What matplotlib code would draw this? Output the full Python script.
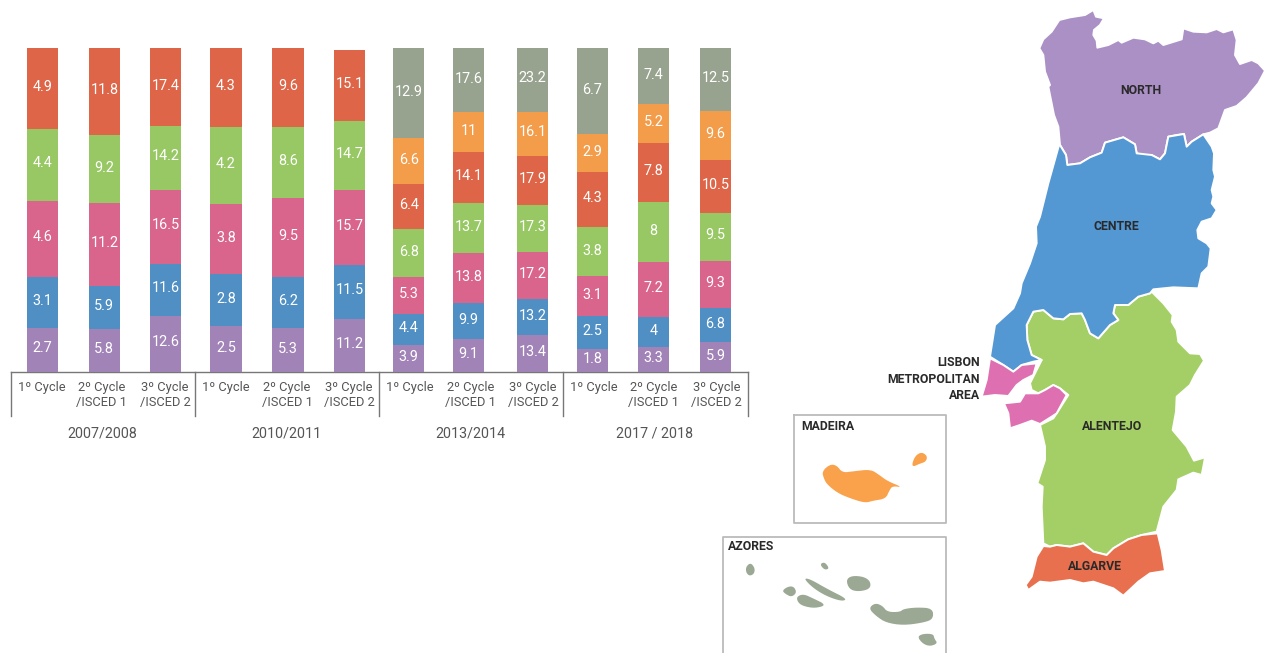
import numpy as np
import matplotlib
matplotlib.use("Agg")
import matplotlib.pyplot as plt
from matplotlib.patches import Polygon

# share of students per region, one value per school cycle and year
north = [2.7, 5.8, 12.6, 2.5, 5.3, 11.2, 3.9, 9.1, 13.4, 1.8, 3.3, 5.9]
centre = [3.1, 5.9, 11.6, 2.8, 6.2, 11.5, 4.4, 9.9, 13.2, 2.5, 4, 6.8]
lisbon = [4.6, 11.2, 16.5, 3.8, 9.5, 15.7, 5.3, 13.8, 17.2, 3.1, 7.2, 9.3]
alentejo = [4.4, 9.2, 14.2, 4.2, 8.6, 14.7, 6.8, 13.7, 17.3, 3.8, 8, 9.5]
algarve = [4.9, 11.8, 17.4, 4.3, 9.6, 15.1, 6.4, 14.1, 17.9, 4.3, 7.8, 10.5]
madeira = [0, 0, 0, 0, 0, 0, 6.6, 11, 16.1, 2.9, 5.2, 9.6]
azores = [0, 0, 0, 0, 0, 0, 12.9, 17.6, 23.2, 6.7, 7.4, 12.5]

cycle_labels = ["1º Cycle", "2º Cycle\n/ISCED 1", "3º Cycle\n/ISCED 2"] * 4
year_labels = ["2007/2008", "2010/2011", "2013/2014", "2017 / 2018"]

series = [north, centre, lisbon, alentejo, algarve, madeira, azores]
bar_colors = ["#A283B8", "#4F8FC4", "#D9648C", "#97C864", "#DE6548", "#F39C4A", "#98A38F"]
map_colors = {"north": "#AB90C6", "centre": "#5397D3", "lisbon": "#DE6FB0", "alentejo": "#A4CF66",
              "algarve": "#E8704F", "madeira": "#F9A24B", "azores": "#9BA893"}

# layout, in pixels
W, H = 1270, 653
BAR_TOP, BAR_BOTTOM = 48, 372
bar_x = [42.2, 104.3, 165.5, 226, 288, 349.8, 408.7, 468.7, 532.7, 592.2, 653.7, 715.5]
bar_width = 31.3
cycle_x = [42, 102, 165, 226, 287, 349, 410, 470.5, 533, 594, 654, 716.5]
year_x = [102, 287, 470, 655]
bracket_x = [10.5, 195, 379, 563, 747.7]
bar_full = [100, 100, 100, 100, 100, 99.5, 100, 100, 100, 100, 100, 100]

FONT = "Roboto"


def outline(points, x0, y0):
    # outlines are noted at 3 units per pixel from a local origin
    return np.array(points, dtype=float) / 3 + [x0, y0]


def soften(shape, rounds=2):
    # corner cutting, keeps the small islands from looking faceted
    for _ in range(rounds):
        nxt = np.roll(shape, -1, axis=0)
        shape = np.vstack([0.75 * shape + 0.25 * nxt, 0.25 * shape + 0.75 * nxt])
        order = np.arange(len(shape)).reshape(2, -1).T.ravel()
        shape = shape[order]
    return shape


north_shape = outline([
    (178, 145), (190, 118), (215, 95), (238, 60), (270, 52), (315, 45), (340, 30), (348, 50), (372, 55),
    (360, 75), (342, 90), (340, 105), (350, 122), (352, 143), (385, 135), (415, 120), (425, 128), (460, 113),
    (495, 118), (520, 130), (535, 122), (550, 135), (605, 118), (610, 85), (640, 95), (680, 97), (710, 87),
    (730, 97), (760, 88), (770, 120), (765, 165), (780, 192), (815, 180), (835, 190), (855, 212), (835, 250),
    (800, 292), (770, 318), (735, 330), (715, 385), (690, 398), (670, 403), (635, 425), (620, 440), (612, 402),
    (590, 405), (565, 410), (555, 460), (540, 478), (515, 465), (490, 465), (470, 460), (465, 433), (430, 412),
    (375, 428), (365, 458), (330, 472), (300, 490), (262, 495), (258, 465), (240, 435), (235, 380), (222, 345),
    (205, 260), (210, 255), (195, 215), (190, 165)], 980, 0)

centre_shape = np.vstack([
    outline([(238, 432), (258, 465), (262, 495), (300, 490), (330, 472), (365, 458), (375, 428), (430, 412),
             (465, 433), (470, 460), (515, 465), (540, 478), (555, 460), (565, 410), (612, 402), (620, 440),
             (635, 425), (670, 403), (695, 440), (702, 460), (700, 510), (705, 530), (695, 570), (700, 590),
             (695, 610), (710, 630), (695, 655), (665, 665), (652, 690), (655, 715), (680, 730), (692, 745),
             (685, 800), (665, 820), (655, 865), (580, 862), (520, 868)], 980, 0),
    outline([(810, 10), (775, 20), (745, 45), (705, 45), (700, 70), (715, 90), (690, 105), (655, 145), (630, 130),
             (615, 90), (605, 70), (570, 72), (550, 88), (520, 85), (490, 60), (460, 65), (440, 105), (442, 150),
             (455, 195), (485, 210), (460, 215), (425, 225), (400, 245), (370, 225), (330, 200), (345, 105),
             (400, 55), (420, 10)], 880, 290),
    outline([(125, 850), (150, 790), (170, 730), (168, 680), (180, 650), (205, 550)], 980, 0)])

alentejo_shape = outline([
    (815, 5), (850, 40), (878, 75), (875, 95), (890, 120), (895, 155), (930, 190), (960, 192), (972, 212), (945, 255),
    (930, 285), (890, 320), (888, 365), (878, 420), (920, 470), (942, 512), (975, 502), (970, 530), (965, 555),
    (940, 548), (895, 568), (890, 600), (850, 650), (830, 725), (785, 735), (745, 748), (700, 775), (680, 795),
    (640, 785), (610, 760), (570, 770), (530, 765), (510, 770), (490, 760), (485, 650), (488, 590), (472, 580),
    (495, 510), (495, 470), (480, 405), (520, 385), (530, 370), (565, 315), (540, 295), (520, 285), (495, 300),
    (475, 310), (455, 300), (450, 280), (470, 240), (485, 210), (455, 195), (442, 150), (440, 105), (460, 65),
    (490, 60), (520, 85), (550, 88), (570, 72), (605, 70), (615, 90), (630, 130), (655, 145), (690, 105), (715, 90),
    (700, 70), (705, 45), (745, 45), (775, 20), (810, 10)], 880, 290)

lisbon_north = outline([(330, 205), (370, 225), (400, 245), (425, 225), (470, 220), (460, 255), (430, 270), (410, 285),
                        (385, 318), (345, 315), (305, 320), (320, 270)], 880, 290)
lisbon_south = outline([(372, 340), (420, 335), (435, 310), (475, 310), (495, 300), (520, 285), (540, 295), (560, 315),
                        (530, 370), (515, 380), (480, 402), (455, 392), (420, 405), (390, 415), (385, 370)], 880, 290)

algarve_shape = outline([
    (490, 768), (510, 770), (530, 765), (570, 770), (610, 760), (640, 785), (680, 795), (700, 775), (745, 748),
    (785, 735), (833, 730), (845, 780), (855, 843), (810, 850), (775, 875), (730, 917), (700, 895), (640, 875),
    (610, 880), (570, 870), (510, 878), (480, 875), (445, 900), (437, 885), (455, 860), (470, 800)], 880, 290)

madeira_shapes = [
    outline([(336, 214), (360, 193), (380, 196), (397, 218), (430, 214), (482, 208), (508, 225), (532, 243), (578, 262),
             (547, 258), (538, 272), (527, 296), (490, 302), (465, 309), (418, 294), (383, 279), (352, 254), (342, 237)],
            710, 400),
    outline([(606, 192), (616, 167), (635, 156), (652, 168), (648, 185), (627, 192), (610, 200)], 710, 400)]

azores_shapes = [outline(p, 710, 400) for p in [
    [(108, 500), (122, 488), (135, 505), (132, 522), (118, 528), (108, 517)],
    [(333, 490), (345, 487), (358, 505), (345, 510), (333, 498)],
    [(281, 535), (300, 537), (352, 567), (412, 597), (395, 604), (348, 588), (308, 563)],
    [(216, 572), (235, 559), (252, 560), (260, 578), (245, 591), (228, 583)],
    [(260, 590), (280, 582), (307, 594), (350, 615), (315, 625), (278, 618), (263, 606)],
    [(408, 540), (425, 527), (462, 530), (482, 545), (480, 567), (445, 575), (418, 568)],
    [(476, 625), (495, 609), (517, 617), (532, 636), (570, 636), (580, 627), (620, 622), (668, 625), (670, 657),
     (640, 668), (580, 676), (528, 668), (498, 648)],
    [(622, 710), (640, 701), (670, 702), (673, 716), (683, 730), (660, 739), (638, 731)]]]

fig = plt.figure(figsize=(W / 100, H / 100), dpi=100)

# overlay in pixel units for the brackets, labels and map
ax = fig.add_axes([0, 0, 1, 1])
ax.set_xlim(0, W)
ax.set_ylim(H, 0)
ax.axis("off")

# 100% stacked bars
ax_bars = fig.add_axes([0, 1 - BAR_BOTTOM / H, 760 / W, (BAR_BOTTOM - BAR_TOP) / H])
ax_bars.set_xlim(0, 760)
ax_bars.set_ylim(0, 100)
ax_bars.axis("off")

values = np.array(series, dtype=float)
shares = values / values.sum(axis=0) * np.array(bar_full)
bottom = np.zeros(len(bar_x))
for vals, share, color in zip(values, shares, bar_colors):
    ax_bars.bar(bar_x, share, bar_width, bottom=bottom, color=color, linewidth=0)
    for x, v, s, b in zip(bar_x, vals, share, bottom):
        if v > 0:
            ax_bars.annotate(f"{v:g}", (x, b + s / 2), xytext=(0, 1), textcoords="offset points",
                             ha="center", va="center", color="white", fontsize=10.4, family=FONT)
    bottom = bottom + share

# bracket under the bars
ax.plot([bracket_x[0], bracket_x[-1]], [BAR_BOTTOM, BAR_BOTTOM], color="#777777", lw=1)
for x in bracket_x:
    ax.plot([x, x], [BAR_BOTTOM, 416], color="#777777", lw=1)

for x, label in zip(cycle_x, cycle_labels):
    for i, line in enumerate(label.split("\n")):
        ax.text(x, 387 + 15.5 * i, line, ha="center", va="center", fontsize=9.3, color="#555555", family=FONT)
for x, label in zip(year_x, year_labels):
    ax.text(x, 433.5, label, ha="center", va="center", fontsize=10.3, color="#555555", family=FONT)

# regions
regions = [(alentejo_shape, "alentejo"), (algarve_shape, "algarve"), (north_shape, "north"),
           (centre_shape, "centre"), (lisbon_north, "lisbon"), (lisbon_south, "lisbon")]
for shape, name in regions:
    ax.add_patch(Polygon(shape, closed=True, facecolor=map_colors[name], edgecolor="white", lw=1.4, joinstyle="round"))
for shape in madeira_shapes:
    ax.add_patch(Polygon(soften(shape, 2), closed=True, facecolor=map_colors["madeira"], edgecolor="none"))
for shape in azores_shapes:
    ax.add_patch(Polygon(soften(shape, 2), closed=True, facecolor=map_colors["azores"], edgecolor="none"))

# inset frames, the Azores one runs off the bottom edge
box_color = "#BBBBBB"
ax.plot([794, 946.3, 946.3, 794, 794], [415.3, 415.3, 522.7, 522.7, 415.3], color=box_color, lw=1.3)
ax.plot([722.7, 722.7, 946.3, 946.3], [H, 536.7, 536.7, H], color=box_color, lw=1.3)

label_style = dict(va="center", fontsize=8.8, color="#2A2A2A", family=FONT, fontweight="bold")
ax.text(1140.7, 90, "NORTH", ha="center", **label_style)
ax.text(1116.7, 226.7, "CENTRE", ha="center", **label_style)
ax.text(1111.7, 426.7, "ALENTEJO", ha="center", **label_style)
ax.text(1095, 566, "ALGARVE", ha="center", **label_style)
ax.text(980, 363, "LISBON", ha="right", **label_style)
ax.text(980, 379.3, "METROPOLITAN", ha="right", **label_style)
ax.text(980, 395.3, "AREA", ha="right", **label_style)
ax.text(801.7, 426, "MADEIRA", ha="left", **label_style)
ax.text(728, 547, "AZORES", ha="left", **label_style)

fig.savefig("out.png", dpi=100)
plt.close(fig)
